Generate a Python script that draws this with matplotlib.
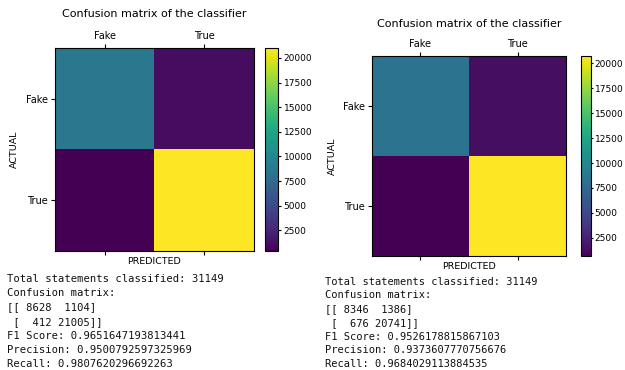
import matplotlib
matplotlib.use("Agg")
import matplotlib.pyplot as plt
import numpy as np

labels = ["Fake", "True"]
cm_left = [[8628, 1104], [412, 21005]]
cm_right = [[8346, 1386], [676, 20741]]
total = 31149
f1_left, prec_left, rec_left = "0.9651647193813441", "0.9500792597325969", "0.9807620296692263"
f1_right, prec_right, rec_right = "0.9526178815867103", "0.9373607770756676", "0.9684029113884535"
cbar_ticks = [2500, 5000, 7500, 10000, 12500, 15000, 17500, 20000]

W, H = 625, 370
fig = plt.figure(figsize=(W / 100, H / 100), dpi=100)
fig.patch.set_facecolor("white")


def rect(x0, y0, x1, y1):
    return [x0 / W, 1 - y1 / H, (x1 - x0) / W, (y1 - y0) / H]


def panel(ax_rect, cax_rect, cm, title_pad, ylabelpad, cb_len, cb_pad):
    ax = fig.add_axes(ax_rect)
    cax = fig.add_axes(cax_rect)
    arr = np.array(cm)
    im = ax.matshow(arr, cmap="viridis", aspect="auto")
    ax.set_title("Confusion matrix of the classifier", fontsize=8, pad=title_pad)
    ax.set_xticks([0, 1])
    ax.set_yticks([0, 1])
    ax.set_xticklabels(labels, fontsize=7)
    ax.set_yticklabels(labels, fontsize=7)
    ax.tick_params(axis="x", top=True, bottom=True, labeltop=True, labelbottom=False, pad=2, length=3)
    ax.tick_params(axis="y", pad=2, length=3)
    ax.set_xlabel("PREDICTED", fontsize=6.8, labelpad=1)
    ax.set_ylabel("ACTUAL", fontsize=6.8, labelpad=ylabelpad)
    for s in ax.spines.values():
        s.set_linewidth(0.8)
    cb = fig.colorbar(im, cax=cax, ticks=cbar_ticks)
    cb.ax.tick_params(labelsize=6.5, length=cb_len, pad=cb_pad)
    cb.outline.set_linewidth(0.8)
    return ax


panel(rect(55, 48, 254, 251), rect(265, 48, 278, 251), cm_left, 22, 5, 2.5, 1.5)
panel(rect(372, 56, 566, 256), rect(581, 56, 591, 256), cm_right, 21, 4.5, 1.6, 1.0)


def text_block(x, y, step, cm, f1, prec, rec, size):
    lines = [
        f"Total statements classified: {total}",
        "Confusion matrix:",
        f"[[{cm[0][0]:5d} {cm[0][1]:5d}]",
        f" [{cm[1][0]:5d} {cm[1][1]:5d}]]",
        f"F1 Score: {f1}",
        f"Precision: {prec}",
        f"Recall: {rec}",
    ]
    for i, line in enumerate(lines):
        fig.text(x / W, 1 - (y + i * step) / H, line, family="DejaVu Sans Mono",
                 fontsize=size, va="center", ha="left", color="#111111")


text_block(7, 279, 14.2, cm_left, f1_left, prec_left, rec_left, 7.6)
text_block(325, 281.7, 13.7, cm_right, f1_right, prec_right, rec_right, 7.5)

fig.savefig("out.png", dpi=100, facecolor="white")
